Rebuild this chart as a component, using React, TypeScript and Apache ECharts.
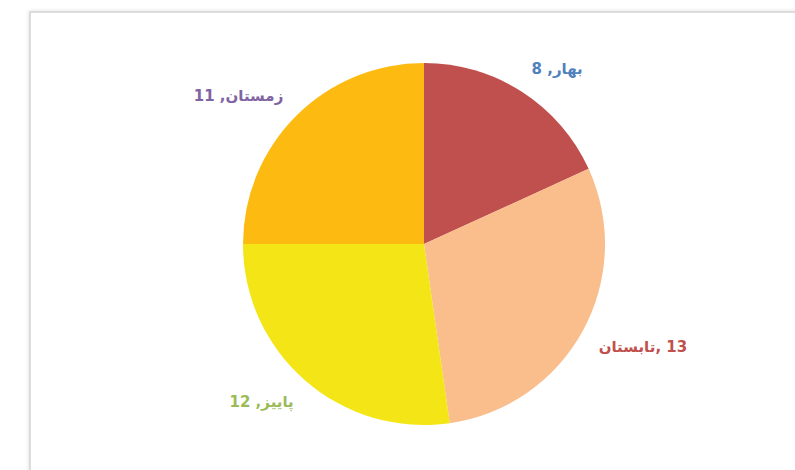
import React, { useEffect, useRef } from "react";
import * as echarts from "echarts";

const seasons = ["بهار", "تابستان", "پاییز", "زمستان"];
const counts = [8, 13, 12, 11];
const sliceColors = ["#C0504D", "#F9BE8C", "#F3E516", "#FDBB12"];
const labelColors = ["#4F81BD", "#C0504D", "#9BBB59", "#8064A2"];

const CX = 424;
const CY = 244;
const R = 181;
const LABEL_R = 199;

export default function App() {
  const ref = useRef<HTMLDivElement>(null);
  useEffect(() => {
    document.body.style.margin = "0";
    if (!ref.current) return;
    const chart = echarts.init(ref.current, null, { renderer: "svg" });
    const total = counts.reduce((a, b) => a + b, 0);
    const mids: number[] = [];
    let acc = 0;
    counts.forEach((v) => {
      mids.push(((acc + v / 2) / total) * Math.PI * 2);
      acc += v;
    });
    chart.setOption({
      animation: false,
      backgroundColor: "#ffffff",
      graphic: [
        {
          type: "rect",
          shape: { x: 30, y: 12, width: 800, height: 500 },
          style: {
            fill: "#ffffff",
            stroke: "#d4d4d4",
            lineWidth: 1.5,
            shadowBlur: 4,
            shadowColor: "rgba(0,0,0,0.15)",
          },
          z: -10,
          silent: true,
        },
      ],
      series: [
        {
          type: "pie",
          center: [CX, CY],
          radius: [0, R],
          startAngle: 90,
          clockwise: true,
          avoidLabelOverlap: false,
          itemStyle: { borderWidth: 0 },
          label: {
            show: true,
            position: "outside",
            fontFamily: "'DejaVu Sans', Arial, sans-serif",
            fontWeight: "bold",
            fontSize: 15,
            formatter: (p: any) =>
              // the right-hand label keeps the name on the left, as in the source
              p.dataIndex === 1 ? `${p.name}\u200E, ${p.value}` : `${p.name}, ${p.value}`,
          },
          labelLine: { show: false },
          labelLayout: (p: any) => {
            const a = mids[p.dataIndex];
            const s = Math.sin(a);
            const c = Math.cos(a);
            return {
              x: CX + LABEL_R * s,
              y: CY - LABEL_R * c,
              align: s >= 0 ? "left" : "right",
              verticalAlign: c >= 0 ? "bottom" : "top",
            };
          },
          emphasis: { disabled: true },
          data: seasons.map((name, i) => ({
            name,
            value: counts[i],
            itemStyle: { color: sliceColors[i] },
            label: { color: labelColors[i] },
          })),
        },
      ],
    });
    return () => chart.dispose();
  }, []);
  return <div ref={ref} style={{ width: 795, height: 470 }} />;
}
